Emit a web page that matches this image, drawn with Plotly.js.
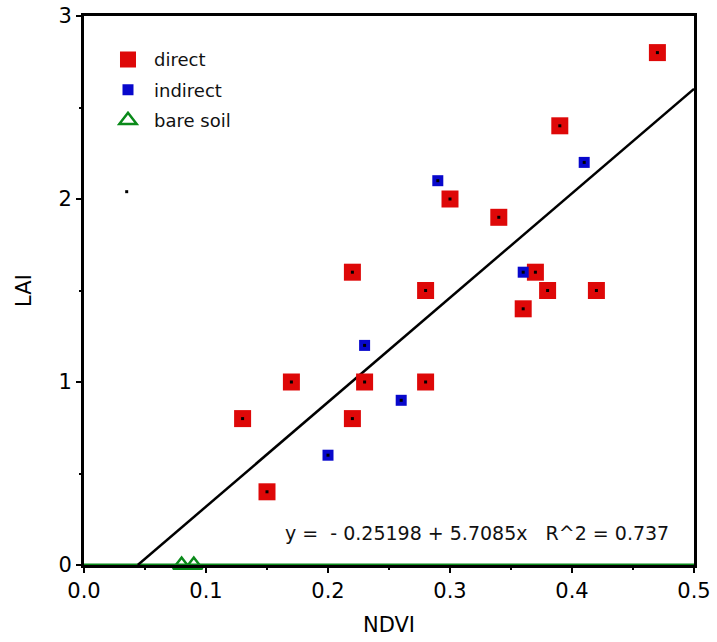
<!DOCTYPE html>
<html><head><meta charset="utf-8">
<script src="https://cdn.plot.ly/plotly-3.0.1.min.js"></script>
<style>body{margin:0;background:#fff}</style>
</head><body><div id="chart" style="width:717px;height:642px"></div>
<script>
// direct measurements
const directNDVI = [0.47, 0.39, 0.30, 0.34, 0.22, 0.37, 0.28, 0.38, 0.42, 0.36, 0.17, 0.23, 0.28, 0.13, 0.22, 0.15];
const directLAI  = [2.8,  2.4,  2.0,  1.9,  1.6,  1.6,  1.5,  1.5,  1.5,  1.4,  1.0,  1.0,  1.0,  0.8,  0.8,  0.4];
// indirect measurements
const indirectNDVI = [0.41, 0.29, 0.36, 0.23, 0.26, 0.20];
const indirectLAI  = [2.2,  2.1,  1.6,  1.2,  0.9,  0.6];
// bare soil
const soilNDVI = [0.08, 0.09];
const soilLAI  = [0, 0];
// stray point
const strayNDVI = [0.035];
const strayLAI  = [2.04];
// regression line y = -0.25198 + 5.7085x (endpoints as drawn)
const fitNDVI = [0.0441, 0.5];
const fitLAI  = [0, 2.602];
// ground line
const groundNDVI = [0, 0.5];
const groundLAI  = [0, 0];
const fitLabel = "y =  - 0.25198 + 5.7085x   R^2 = 0.737";

const FONT = "DejaVu Sans, Verdana, sans-serif";
const RED = "#de0808", BLUE = "#0808cc", GREEN = "#0a8a1a";

const traces = [
  {x: groundNDVI, y: groundLAI, mode: "lines", line: {color: GREEN, width: 3}, showlegend: false, hoverinfo: "skip", cliponaxis: false},
  {x: fitNDVI, y: fitLAI, mode: "lines", line: {color: "#000", width: 2.5}, showlegend: false},
  {x: directNDVI, y: directLAI, mode: "markers", name: "direct", legendgroup: "a",
   marker: {symbol: "square", size: 17, color: RED, line: {width: 0}}},
  {x: indirectNDVI, y: indirectLAI, mode: "markers", name: "indirect", legendgroup: "b",
   marker: {symbol: "square", size: 11, color: BLUE, line: {width: 0}}},
  {x: soilNDVI, y: soilLAI, mode: "markers", name: "bare soil", legendgroup: "c", cliponaxis: false,
   marker: {symbol: "triangle-up-open", size: 15, color: GREEN, line: {color: GREEN, width: 2.5}}},
  {x: directNDVI, y: directLAI, mode: "markers", showlegend: false,
   marker: {symbol: "square", size: 3, color: "#000"}},
  {x: indirectNDVI, y: indirectLAI, mode: "markers", showlegend: false,
   marker: {symbol: "square", size: 3, color: "#000"}},
  {x: strayNDVI, y: strayLAI, mode: "markers", showlegend: false,
   marker: {symbol: "square", size: 3, color: "#000"}}
];

const axisCommon = {
  showgrid: false, zeroline: false, showline: true, linecolor: "#000", linewidth: 3,
  mirror: true, ticks: "outside", ticklen: 5, tickwidth: 2.5, tickcolor: "#000",
  tickfont: {family: FONT, size: 21, color: "#000"},
  minor: {ticks: "outside", ticklen: 2, tickwidth: 2, tickcolor: "#000"}
};

const layout = {
  width: 717, height: 642,
  margin: {l: 84, r: 23, t: 16, b: 77},
  paper_bgcolor: "#fff", plot_bgcolor: "#fff",
  font: {family: FONT, color: "#000"},
  xaxis: Object.assign({}, axisCommon, {
    range: [0, 0.5], tickvals: [0, 0.1, 0.2, 0.3, 0.4, 0.5],
    ticktext: ["0.0", "0.1", "0.2", "0.3", "0.4", "0.5"],
    minor: Object.assign({}, axisCommon.minor, {dtick: 0.05}),
    title: {text: "NDVI", font: {family: FONT, size: 21}, standoff: 16}
  }),
  yaxis: Object.assign({}, axisCommon, {
    range: [0, 3], tickvals: [0, 1, 2, 3],
    minor: Object.assign({}, axisCommon.minor, {dtick: 0.5}),
    title: {text: "LAI", font: {family: FONT, size: 21}, standoff: 22}
  }),
  legend: {
    x: 0.0295, y: 0.954, xanchor: "left", yanchor: "top",
    bgcolor: "rgba(0,0,0,0)", borderwidth: 0, itemwidth: 42,
    font: {family: FONT, size: 18, color: "#111"},
    traceorder: "grouped", tracegroupgap: 4
  },
  annotations: [{
    xref: "paper", yref: "paper", x: 0.645, y: 0.058, xanchor: "center", yanchor: "middle",
    text: fitLabel, showarrow: false, font: {family: FONT, size: 19, color: "#111"}
  }]
};

Plotly.newPlot("chart", traces, layout, {displayModeBar: false, staticPlot: true});
</script>
</body></html>
